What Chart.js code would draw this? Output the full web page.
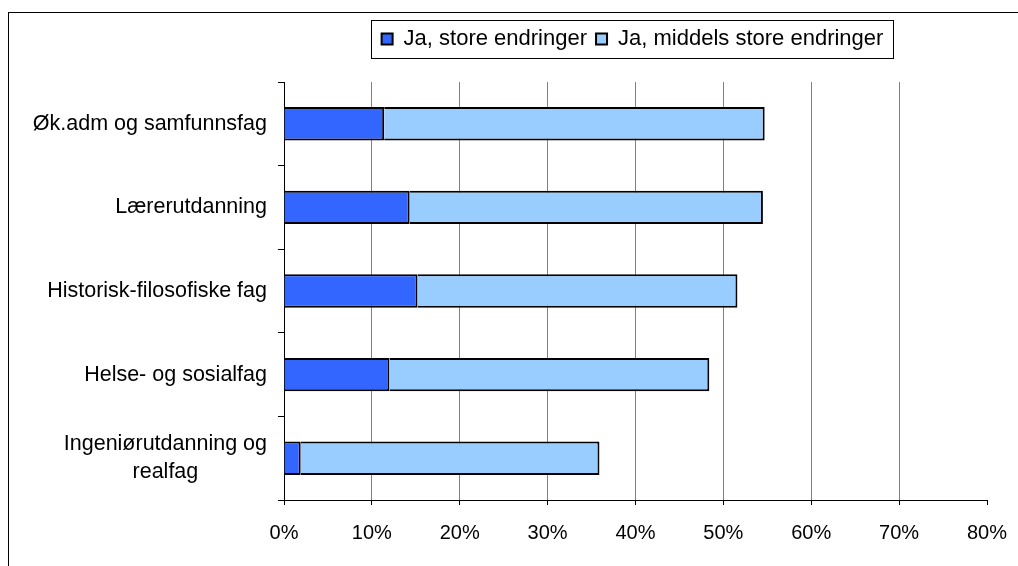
<!DOCTYPE html>
<html>
<head>
<meta charset="utf-8">
<script src="https://cdn.jsdelivr.net/npm/chart.js@4"></script>
<style>
  html, body { margin: 0; padding: 0; background: #fff; overflow: hidden; }
  #frame { position: absolute; left: 8px; top: 12px; width: 1100px; height: 700px; border: 1px solid #000; }
  #wrap { position: absolute; left: 0; top: 0; width: 1018px; height: 566px; }
</style>
</head>
<body>
<div id="frame"></div>
<div id="wrap"><canvas id="chart" width="1018" height="566"></canvas></div>
<script>
const categories = [
  "Øk.adm og samfunnsfag",
  "Lærerutdanning",
  "Historisk-filosofiske fag",
  "Helse- og sosialfag",
  ["Ingeniørutdanning og", "realfag"],
];
const seriesNames = ["Ja, store endringer", "Ja, middels store endringer"];
const storeEndringer = [11.4, 14.3, 15.2, 12.0, 1.9];
const middelsEndringer = [43.3, 40.2, 36.4, 36.4, 34.0];
const xTicks = [0, 10, 20, 30, 40, 50, 60, 70, 80];

const FONT = "'Liberation Sans', Arial, sans-serif";

// category labels: right edge fixed, lines centred on each other
const yLabels = {
  id: "yLabels",
  afterDraw(chart) {
    const { ctx } = chart;
    const y = chart.scales.y;
    const right = chart.chartArea.left - 17;
    ctx.save();
    ctx.font = "21.5px " + FONT;
    ctx.fillStyle = "#000";
    ctx.textAlign = "center";
    ctx.textBaseline = "middle";
    categories.forEach((lab, i) => {
      const lines = Array.isArray(lab) ? lab : [lab];
      const w = Math.max(...lines.map((l) => ctx.measureText(l).width));
      const cy = y.getPixelForTick(i);
      const lh = 28;
      lines.forEach((l, j) => {
        ctx.fillText(l, right - w / 2, cy + (j - (lines.length - 1) / 2) * lh);
      });
    });
    ctx.restore();
  },
};

// extra room under the legend, and a box round it
const legendBox = {
  id: "legendBox",
  afterInit(chart) {
    const lg = chart.legend;
    const fit = lg.fit;
    lg.fit = function () {
      fit.call(this);
      this.height += 22;
    };
  },
  afterDraw(chart) {
    const boxes = chart.legend.legendHitBoxes;
    if (!boxes || !boxes.length) return;
    const l = Math.min(...boxes.map((b) => b.left));
    const r = Math.max(...boxes.map((b) => b.left + b.width));
    const t = Math.min(...boxes.map((b) => b.top));
    const bt = Math.max(...boxes.map((b) => b.top + b.height));
    const { ctx } = chart;
    ctx.save();
    ctx.strokeStyle = "#000";
    ctx.lineWidth = 1;
    ctx.strokeRect(Math.round(l - 11) + 0.5, Math.round(t - 8) + 0.5, Math.round(r - l + 20), Math.round(bt - t + 16));
    ctx.restore();
  },
};

new Chart(document.getElementById("chart"), {
  type: "bar",
  data: {
    labels: categories,
    datasets: [
      {
        label: seriesNames[0],
        data: storeEndringer,
        backgroundColor: "#3366FF",
        borderColor: "#000",
        borderWidth: 2,
      },
      {
        label: seriesNames[1],
        data: middelsEndringer,
        backgroundColor: "#99CCFF",
        borderColor: "#000",
        borderWidth: 2,
      },
    ],
  },
  options: {
    indexAxis: "y",
    responsive: false,
    animation: false,
    devicePixelRatio: 1,
    layout: { padding: { left: 278, right: 31, top: 19, bottom: 5 } },
    datasets: { bar: { categoryPercentage: 1, barPercentage: 0.4 } },
    plugins: {
      tooltip: { enabled: false },
      legend: {
        position: "top",
        labels: {
          boxWidth: 11,
          boxHeight: 11,
          padding: 9,
          color: "#000",
          font: { size: 22, family: FONT },
        },
      },
    },
    scales: {
      x: {
        type: "linear",
        stacked: true,
        min: 0,
        max: 80,
        afterBuildTicks: (s) => { s.ticks = xTicks.map((v) => ({ value: v })); },
        afterFit: (s) => { s.paddingLeft = 0; s.paddingRight = 0; },
        ticks: {
          color: "#000",
          padding: 16,
          font: { size: 20, family: FONT },
          callback: (v) => v + "%",
        },
        grid: {
          color: (c) => (c.tick && (c.tick.value === 0 || c.tick.value === 80) ? "rgba(0,0,0,0)" : "#808080"),
          tickColor: "#000",
          tickLength: 5,
        },
        border: { color: "#000" },
      },
      y: {
        type: "category",
        stacked: true,
        offset: true,
        afterFit: (s) => { s.width = 6; },
        ticks: { display: false },
        grid: { offset: true, drawOnChartArea: false, tickLength: 6, tickColor: "#000" },
        border: { color: "#000" },
      },
    },
  },
  plugins: [yLabels, legendBox],
});
</script>
</body>
</html>
